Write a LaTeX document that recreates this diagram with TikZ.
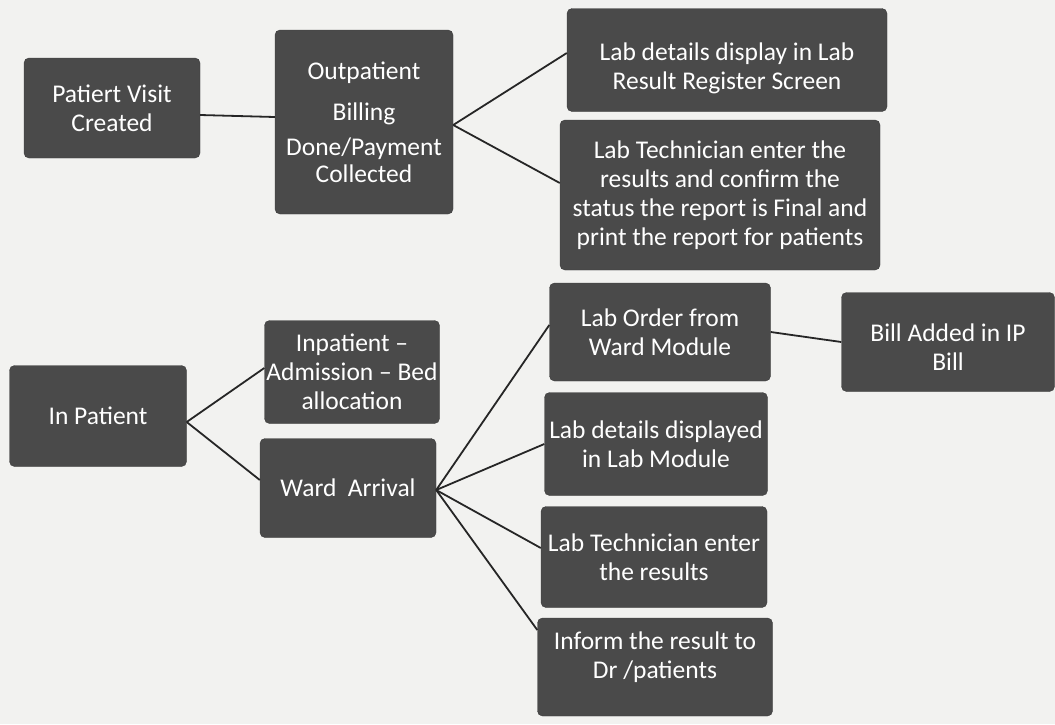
\documentclass[tikz,border=0pt]{standalone}
\usepackage{fontspec}
\setmainfont{Carlito}
\definecolor{boxgrey}{HTML}{4A4A4A}
\definecolor{paper}{HTML}{F2F2F0}
\definecolor{linec}{HTML}{262626}
\begin{document}
\begin{tikzpicture}[x=1pt,y=-1pt,
  box/.style={fill=boxgrey, draw=boxgrey!80!black, rounded corners=5pt, text=white,
     align=center, inner sep=1pt, font=\fontsize{25.5}{29}\selectfont},
  conn/.style={draw=linec, line width=1.8pt}]
\fill[paper] (0,0) rectangle (1055,724);
\useasboundingbox (0,0) rectangle (1055,724);
\node[box, minimum width=176pt, minimum height=100pt] (visit) at (112,108) {Patiert Visit\\Created};
\node[box, minimum width=178pt, minimum height=184pt] (out) at (364,122) {Outpatient\\[12pt]Billing\\[6pt]Done/Payment\\[-2pt]Collected};
\node[box, minimum width=320pt, minimum height=103pt] (lab1) at (727,60) {\rule{0pt}{35pt}Lab details display in Lab\\Result Register Screen};
\node[box, minimum width=320pt, minimum height=150pt] (tech1) at (720,195) {Lab Technician enter the\\results and confirm the\\status the report is Final and\\print the report for patients};
\node[box, minimum width=177pt, minimum height=101pt] (inp) at (98,416) {In Patient};
\node[box, minimum width=175pt, minimum height=103pt] (adm) at (352,372) {Inpatient --\\Admission -- Bed\\allocation};
\node[box, minimum width=176pt, minimum height=99pt] (ward) at (348,488) {Ward~~Arrival};
\node[box, minimum width=221pt, minimum height=98pt] (order) at (660,332) {Lab Order from\\Ward Module};
\node[box, minimum width=213pt, minimum height=99pt] (bill) at (948,342) {\rule{0pt}{28pt}Bill Added in IP\\Bill};
\node[box, minimum width=223pt, minimum height=103pt] (disp) at (656,444) {Lab details displayed\\in Lab Module};
\node[box, minimum width=226pt, minimum height=101pt] (tech2) at (654,557) {Lab Technician enter\\the results};
\node[box, minimum width=235pt, minimum height=98pt] (inform) at (655,667) {Inform the result to\\Dr /patients\\[-5pt]};
\draw[conn] ([yshift=-7pt]visit.east) -- ([yshift=5pt]out.west);
\draw[conn] ([yshift=-3pt]out.east) -- ([yshift=7pt]lab1.west);
\draw[conn] ([yshift=-3pt]out.east) -- ([yshift=12pt]tech1.west);
\draw[conn] ([yshift=-6pt]inp.east) -- ([yshift=4pt]adm.west);
\draw[conn] ([yshift=-6pt]inp.east) -- ([yshift=8pt]ward.west);
\draw[conn] ([yshift=-2pt]ward.east) -- ([yshift=7pt]order.west);
\draw[conn] ([yshift=-2pt]ward.east) -- (disp.west);
\draw[conn] ([yshift=-2pt]ward.east) -- ([yshift=9pt]tech2.west);
\draw[conn] ([yshift=-2pt]ward.east) -- ([yshift=37pt]inform.west);
\draw[conn] (order.east) -- (bill.west);
\end{tikzpicture}
\end{document}
